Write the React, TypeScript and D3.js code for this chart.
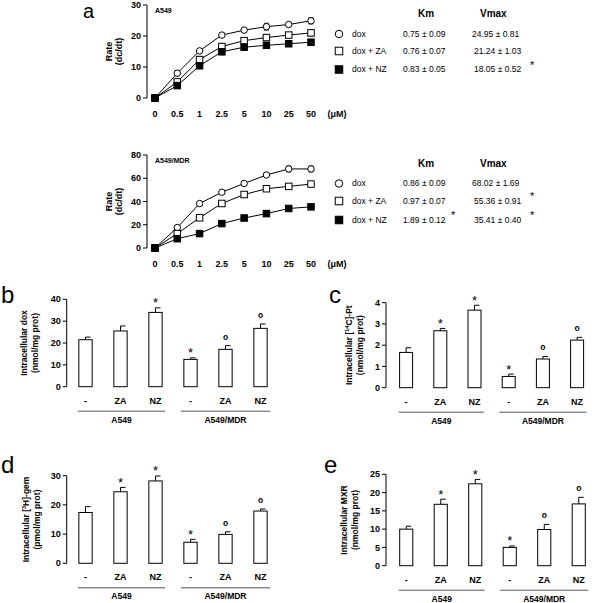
import React from "react";
import * as d3 from "d3";

// ---------- DATA ----------
const doses = ["0", "0.5", "1", "2.5", "5", "10", "25", "50"];

const a549Dox = [0, 8.0, 15.2, 20.3, 21.9, 23.0, 23.7, 24.9];
const a549DoxErr = [0.3, 0.8, 0.6, 0.5, 0.6, 1.1, 0.6, 1.0];
const a549ZA = [0, 5.2, 12.4, 16.6, 18.5, 19.5, 20.3, 21.0];
const a549ZAErr = [0.3, 0.8, 1.0, 0.8, 0.6, 0.9, 0.7, 1.0];
const a549NZ = [0, 4.0, 10.4, 14.9, 16.4, 17.0, 17.5, 18.0];
const a549NZErr = [0.3, 0.5, 0.8, 0.6, 0.6, 0.5, 0.5, 0.5];

const mdrDox = [0, 17.6, 38.2, 48.0, 55.5, 62.8, 68.0, 68.0];
const mdrDoxErr = [0.5, 1.5, 1.5, 1.5, 1.5, 1.5, 2.5, 2.5];
const mdrZA = [0, 12.4, 26.0, 38.3, 46.0, 51.0, 53.0, 55.0];
const mdrZAErr = [0.5, 1.5, 1.5, 1.5, 1.5, 1.5, 1.5, 1.5];
const mdrNZ = [0, 8.0, 12.4, 21.0, 25.8, 29.6, 34.0, 35.4];
const mdrNZErr = [0.5, 1.0, 1.0, 1.0, 1.0, 1.0, 1.0, 1.0];

const seriesNames = ["dox", "dox + ZA", "dox + NZ"];
const a549Km = ["0.75", "0.76", "0.83"];
const a549KmErr = ["0.09", "0.07", "0.05"];
const a549Vmax = ["24.95", "21.24", "18.05"];
const a549VmaxErr = ["0.81", "1.03", "0.52"];
const a549KmSig = [false, false, false];
const a549VmaxSig = [false, false, true];
const mdrKm = ["0.86", "0.97", "1.89"];
const mdrKmErr = ["0.09", "0.07", "0.12"];
const mdrVmax = ["68.02", "55.36", "35.41"];
const mdrVmaxErr = ["1.69", "0.91", "0.40"];
const mdrKmSig = [false, false, true];
const mdrVmaxSig = [false, true, true];

const barLabels = ["-", "ZA", "NZ", "-", "ZA", "NZ"];
const cellGroups = ["A549", "A549/MDR"];

const doxUptake = [21.5, 25.5, 34.0, 12.5, 17.1, 26.7];
const doxUptakeErr = [1.2, 2.3, 2.1, 0.7, 1.7, 2.0];
const doxMarks = ["", "", "*", "*", "o", "o"];

const ptUptake = [1.66, 2.68, 3.65, 0.53, 1.35, 2.24];
const ptUptakeErr = [0.22, 0.11, 0.23, 0.11, 0.12, 0.13];
const ptMarks = ["", "*", "*", "*", "o", "o"];

const gemUptake = [17.4, 24.5, 28.2, 7.2, 9.9, 17.9];
const gemUptakeErr = [2.0, 1.5, 1.7, 1.0, 0.9, 0.7];
const gemMarks = ["", "*", "*", "*", "o", "o"];

const mxrUptake = [10.0, 16.8, 22.4, 5.0, 9.9, 16.9];
const mxrUptakeErr = [0.8, 1.4, 1.2, 0.4, 1.4, 1.8];
const mxrMarks = ["", "*", "*", "*", "o", "o"];

const topTicks = [0, 10, 20, 30];
const mdrTicks = [0, 20, 40, 60, 80];
const doxTicks = [0, 10, 20, 30, 40];
const ptTicks = [0, 1, 2, 3, 4];
const gemTicks = [0, 10, 20, 30];
const mxrTicks = [0, 5, 10, 15, 20, 25];

const FONT = "'Liberation Sans', Arial, Helvetica, sans-serif";

// ---------- KINETICS PANEL ----------
type LineProps = {
  yTop: number;
  yBottom: number;
  yMax: number;
  ticks: number[];
  label: string;
  series: { v: number[]; e: number[]; kind: string }[];
};

function Symbol({ kind, x, y, s }: { kind: string; x: number; y: number; s: number }) {
  if (kind === "circle")
    return <circle cx={x} cy={y} r={s / 2} fill="white" stroke="black" strokeWidth={1} />;
  return (
    <rect
      x={x - s / 2}
      y={y - s / 2}
      width={s}
      height={s}
      fill={kind === "filled" ? "black" : "white"}
      stroke="black"
      strokeWidth={1}
    />
  );
}

function KineticPanel({ yTop, yBottom, yMax, ticks, label, series }: LineProps) {
  const x = d3.scalePoint<string>().domain(doses).range([155, 311]);
  const y = d3.scaleLinear().domain([0, yMax]).range([yBottom, yTop]);
  const line = d3
    .line<number>()
    .x((_, i) => x(doses[i]) as number)
    .y((d) => y(d));
  const axisX = 147;
  return (
    <g fontFamily={FONT}>
      <line x1={axisX} x2={axisX} y1={y(0)} y2={y(yMax)} stroke="black" strokeWidth={1} />
      {ticks.map((t) => (
        <g key={t}>
          <line x1={axisX - 4} x2={axisX} y1={y(t)} y2={y(t)} stroke="black" />
          <text x={axisX - 6} y={y(t)} dy="0.35em" textAnchor="end" fontSize={9} fontWeight="bold">
            {t}
          </text>
        </g>
      ))}
      {doses.map((d) => (
        <text key={d} x={x(d)} y={yBottom + 19} textAnchor="middle" fontSize={9} fontWeight="bold">
          {d}
        </text>
      ))}
      <text x={337} y={yBottom + 19} textAnchor="middle" fontSize={9} fontWeight="bold">
        (μM)
      </text>
      <text x={155} y={yTop + 8} fontSize={7} fontWeight="bold">
        {label}
      </text>
      <text transform={`translate(${112},${(yTop + yBottom) / 2}) rotate(-90)`} textAnchor="middle" fontSize={9} fontWeight="bold">
        <tspan x={0} dy="0em">Rate</tspan>
        <tspan x={0} dy="1.15em">(dc/dt)</tspan>
      </text>
      {series.map((s, si) => (
        <g key={si}>
          <path d={line(s.v) || ""} fill="none" stroke="black" strokeWidth={1} />
          {s.v.map((v, i) => {
            const cx = x(doses[i]) as number;
            return (
              <g key={i}>
                <line x1={cx} x2={cx} y1={y(v - s.e[i])} y2={y(v + s.e[i])} stroke="black" strokeWidth={0.8} />
                <line x1={cx - 2.5} x2={cx + 2.5} y1={y(v + s.e[i])} y2={y(v + s.e[i])} stroke="black" strokeWidth={0.8} />
                <line x1={cx - 2.5} x2={cx + 2.5} y1={y(v - s.e[i])} y2={y(v - s.e[i])} stroke="black" strokeWidth={0.8} />
                <Symbol kind={s.kind} x={cx} y={y(v)} s={6.5} />
              </g>
            );
          })}
        </g>
      ))}
    </g>
  );
}

function KineticTable({
  rowsY,
  headerY,
  km,
  kmErr,
  vmax,
  vmaxErr,
  kmSig,
  vmaxSig,
}: {
  rowsY: number[];
  headerY: number;
  km: string[];
  kmErr: string[];
  vmax: string[];
  vmaxErr: string[];
  kmSig: boolean[];
  vmaxSig: boolean[];
}) {
  const kinds = ["circle", "open", "filled"];
  return (
    <g fontFamily={FONT} fontSize={8.5}>
      <text x={418} y={headerY} fontSize={10} fontWeight="bold">Km</text>
      <text x={480} y={headerY} fontSize={10} fontWeight="bold">Vmax</text>
      {rowsY.map((ry, i) => (
        <g key={i}>
          <Symbol kind={kinds[i]} x={339} y={ry} s={7.5} />
          <text x={352} y={ry} dy="0.35em">{seriesNames[i]}</text>
          <text x={403} y={ry} dy="0.35em">{`${km[i]} ± ${kmErr[i]}`}</text>
          {kmSig[i] && <text x={451} y={ry - 1} fontSize={11}>*</text>}
          <text x={i === 0 ? 472 : 474} y={ry} dy="0.35em">{`${vmax[i]} ± ${vmaxErr[i]}`}</text>
          {vmaxSig[i] && <text x={530} y={ry - 1} fontSize={11}>*</text>}
        </g>
      ))}
    </g>
  );
}

// ---------- BAR PANEL ----------
type BarProps = {
  letter: string;
  letterX: number;
  letterY: number;
  axisX: number;
  x0: number;
  spacing: number;
  yTop: number;
  yBottom: number;
  yMax: number;
  ticks: number[];
  values: number[];
  errs: number[];
  marks: string[];
  ylabel1: React.ReactNode;
  ylabel2: string;
  ylabelX: number;
};

function BarPanel(p: BarProps) {
  const x = d3
    .scaleBand<number>()
    .domain(d3.range(6))
    .range([p.x0, p.x0 + 6 * p.spacing])
    .paddingInner(0.62)
    .paddingOuter(0.31);
  const y = d3.scaleLinear().domain([0, p.yMax]).range([p.yBottom, p.yTop]);
  const bw = x.bandwidth();
  const groupLines = [
    [x(0)! - 1, x(2)! + bw + 3],
    [x(3)! - 3, x(5)! + bw + 3],
  ];
  return (
    <g fontFamily={FONT}>
      <text x={p.letterX} y={p.letterY} fontSize={24}>
        {p.letter}
      </text>
      <line x1={p.axisX} x2={p.axisX} y1={y(0)} y2={y(p.yMax)} stroke="black" />
      {p.ticks.map((t) => (
        <g key={t}>
          <line x1={p.axisX - 4} x2={p.axisX} y1={y(t)} y2={y(t)} stroke="black" />
          <text x={p.axisX - 6} y={y(t)} dy="0.35em" textAnchor="end" fontSize={9} fontWeight="bold">
            {t}
          </text>
        </g>
      ))}
      <text transform={`translate(${p.ylabelX},${(p.yTop + p.yBottom) / 2}) rotate(-90)`} textAnchor="middle" fontSize={8.5} fontWeight="bold">
        <tspan x={0} dy="0em">{p.ylabel1}</tspan>
        <tspan x={0} dy="1.3em">{p.ylabel2}</tspan>
      </text>
      {p.values.map((v, i) => {
        const bx = x(i)!;
        const cx = bx + bw / 2;
        const et = y(v + p.errs[i]);
        return (
          <g key={i}>
            <line x1={cx} x2={cx} y1={y(v)} y2={et} stroke="black" strokeWidth={1} />
            <line x1={cx} x2={cx + 5} y1={et} y2={et} stroke="black" strokeWidth={1} />
            <rect x={bx} y={y(v)} width={bw} height={y(0) - y(v)} fill="white" stroke="black" strokeWidth={1} />
            {p.marks[i] === "*" && (
              <text x={cx} y={et - 0.5} textAnchor="middle" fontSize={13}>*</text>
            )}
            {p.marks[i] === "o" && (
              <text x={cx} y={et - 6} textAnchor="middle" fontSize={8.5} fontWeight="bold">o</text>
            )}
            <text x={cx} y={p.yBottom + 17} textAnchor="middle" fontSize={9} fontWeight="bold">
              {barLabels[i]}
            </text>
          </g>
        );
      })}
      {groupLines.map((g, gi) => (
        <g key={gi}>
          <line x1={g[0]} x2={g[1]} y1={p.yBottom + 24.5} y2={p.yBottom + 24.5} stroke="#555" strokeWidth={1} />
          <text x={(g[0] + g[1]) / 2} y={p.yBottom + 36} textAnchor="middle" fontSize={8.5} fontWeight="bold">
            {cellGroups[gi]}
          </text>
        </g>
      ))}
    </g>
  );
}

export default function App() {
  return (
    <div style={{ position: "absolute", left: 0, top: 0, background: "white" }}>
      <svg width={600} height={603} style={{ display: "block" }}>
        <rect width={600} height={603} fill="white" />
        <text x={83} y={18} fontFamily={FONT} fontSize={20}>a</text>
        <KineticPanel
          yTop={5}
          yBottom={98}
          yMax={30}
          ticks={topTicks}
          label="A549"
          series={[
            { v: a549Dox, e: a549DoxErr, kind: "circle" },
            { v: a549ZA, e: a549ZAErr, kind: "open" },
            { v: a549NZ, e: a549NZErr, kind: "filled" },
          ]}
        />
        <KineticTable
          rowsY={[34, 51, 69.5]}
          headerY={17}
          km={a549Km}
          kmErr={a549KmErr}
          vmax={a549Vmax}
          vmaxErr={a549VmaxErr}
          kmSig={a549KmSig}
          vmaxSig={a549VmaxSig}
        />
        <KineticPanel
          yTop={155}
          yBottom={248}
          yMax={80}
          ticks={mdrTicks}
          label="A549/MDR"
          series={[
            { v: mdrDox, e: mdrDoxErr, kind: "circle" },
            { v: mdrZA, e: mdrZAErr, kind: "open" },
            { v: mdrNZ, e: mdrNZErr, kind: "filled" },
          ]}
        />
        <KineticTable
          rowsY={[183.5, 201, 220]}
          headerY={167}
          km={mdrKm}
          kmErr={mdrKmErr}
          vmax={mdrVmax}
          vmaxErr={mdrVmaxErr}
          kmSig={mdrKmSig}
          vmaxSig={mdrVmaxSig}
        />
        <BarPanel
          letter="b" letterX={1} letterY={303}
          axisX={66.7} x0={68} spacing={35}
          yTop={299.3} yBottom={386.7} yMax={40} ticks={doxTicks}
          values={doxUptake} errs={doxUptakeErr} marks={doxMarks}
          ylabel1="Intracellular dox" ylabel2="(nmol/mg prot)" ylabelX={27}
        />
        <BarPanel
          letter="c" letterX={329} letterY={303}
          axisX={386} x0={389} spacing={34.2}
          yTop={302.7} yBottom={387.7} yMax={4} ticks={ptTicks}
          values={ptUptake} errs={ptUptakeErr} marks={ptMarks}
          ylabel1={<>Intracellular [<tspan fontSize={5.5} dy="-3">14</tspan><tspan dy="3">C]-Pt</tspan></>}
          ylabel2="(nmol/mg prot)" ylabelX={352}
        />
        <BarPanel
          letter="d" letterX={1} letterY={473}
          axisX={66.7} x0={68} spacing={35}
          yTop={475.7} yBottom={563.3} yMax={30} ticks={gemTicks}
          values={gemUptake} errs={gemUptakeErr} marks={gemMarks}
          ylabel1={<>Intracellular [<tspan fontSize={5.5} dy="-3">3</tspan><tspan dy="3">H]-gem</tspan></>}
          ylabel2="(pmol/mg prot)" ylabelX={29}
        />
        <BarPanel
          letter="e" letterX={324} letterY={473}
          axisX={386} x0={389} spacing={34.5}
          yTop={474.3} yBottom={565.7} yMax={25} ticks={mxrTicks}
          values={mxrUptake} errs={mxrUptakeErr} marks={mxrMarks}
          ylabel1="Intracellular MXR" ylabel2="(nmol/mg prot)" ylabelX={347}
        />
      </svg>
    </div>
  );
}
